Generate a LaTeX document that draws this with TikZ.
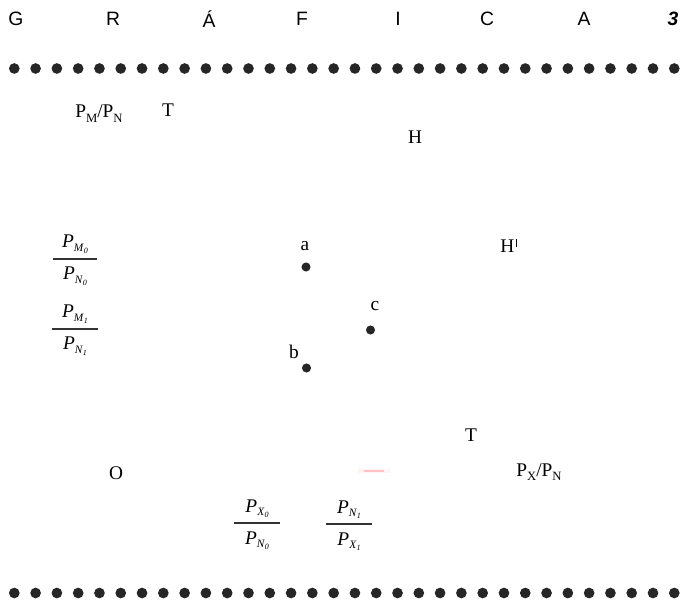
\documentclass[tikz,border=0pt]{standalone}
\usepackage{fontspec}
\setmainfont{Liberation Serif}
\newfontfamily\headfont{Liberation Sans}
\usetikzlibrary{calc}

% upright P with a lowered subscript
\newcommand{\upsub}[2]{#1\raisebox{-0.55ex}{\fontsize{9.5}{11}\selectfont #2}}
% italic P with a two-level subscript
\newcommand{\psub}[2]{\textit{P}\raisebox{-0.35ex}{\fontsize{8.5}{10}\selectfont\textit{#1}\raisebox{-0.4ex}{\fontsize{6}{7}\selectfont\textit{#2}}}}
% H with a small upright stroke
\newcommand{\Hmark}{H\hspace{1.4pt}\raisebox{4.5pt}{\rule{0.45pt}{5.5pt}}}

\tikzset{
  lbl/.style={inner sep=0pt, font=\fontsize{14.5}{17}\selectfont},
  head/.style={inner sep=0pt, font=\headfont\fontsize{14.5}{17}\selectfont},
  bead/.style={circle, fill=black!85, inner sep=0pt, minimum size=8pt},
  pt/.style={circle, fill=black!85, inner sep=0pt, minimum size=6.8pt},
  fracbar/.style={line width=0.9pt, black!80},
}

% fraction: name, bar centre, half width, numerator, denominator
\newcommand{\placefrac}[5]{%
  \coordinate (#1) at #2;
  \node[lbl, anchor=base] (#1n) at ($(#1)+(0,-11)$) {#4};
  \node[lbl, anchor=base] (#1d) at ($(#1)+(0,21)$) {#5};
  \draw[fracbar] ($(#1)+(-#3,0)$) -- ($(#1)+(#3,0)$);
}

\begin{document}
\begin{tikzpicture}[x=0.75pt, y=-0.75pt]
\useasboundingbox (0,0) rectangle (681,605);

% spaced title
\foreach \ch/\xx [count=\i] in {G/16, R/113, \'A/209, F/302, I/398, C/487, A/584}
  \node[head] (t\i) at (\xx,19) {\ch};
\node[head, font=\headfont\bfseries\itshape\fontsize{14.5}{17}\selectfont] (t8) at (673,19) {3};

% rows of beads
\foreach \k in {0,...,31} {
  \node[bead] (u\k) at ({14.3+\k*21.29},68.5) {};
  \node[bead] (w\k) at ({14.3+\k*21.29},593) {};
}

% axis labels
\node[lbl, anchor=base] (ylab) at (99,118) {\upsub{P}{M}/\upsub{P}{N}};
\node[lbl, anchor=base] (T1) at (168,117) {T};
\node[lbl] (H) at (415,137) {H};
\node[lbl] (H2) at (508.5,246) {\Hmark};
\node[lbl] (O) at (116,473) {O};
\node[lbl] (T2) at (471,435) {T};
\node[lbl, anchor=base] (xlab) at (539,476) {\upsub{P}{X}/\upsub{P}{N}};

% price ratios
\placefrac{f1}{(75,259)}{22}{\psub{M}{0}}{\psub{N}{0}}
\placefrac{f2}{(75,329)}{23}{\psub{M}{1}}{\psub{N}{1}}
\placefrac{f3}{(257,523)}{23}{\psub{X}{0}}{\psub{N}{0}}
\placefrac{f4}{(349,524)}{23}{\psub{N}{1}}{\psub{X}{1}}

% equilibrium points
\node[pt] (a) at (306,267) {};
\node[pt] (b) at (306.5,368) {};
\node[pt] (c) at (370.5,330) {};
\node[lbl] (la) at (305,246) {a};
\node[lbl] (lb) at (294,352) {b};
\node[lbl] (lc) at (375,306) {c};

% faint pink mark
\coordinate (m1) at (358,471);
\coordinate (m2) at (390,471);
\coordinate (m3) at (364,471);
\coordinate (m4) at (384,471);
\draw[line width=2.5pt, red!8!white, opacity=0.6] (m1) -- (m2);
\draw[line width=0.8pt, red!28!white, opacity=0.8] (m3) -- (m4);
\end{tikzpicture}
\end{document}
